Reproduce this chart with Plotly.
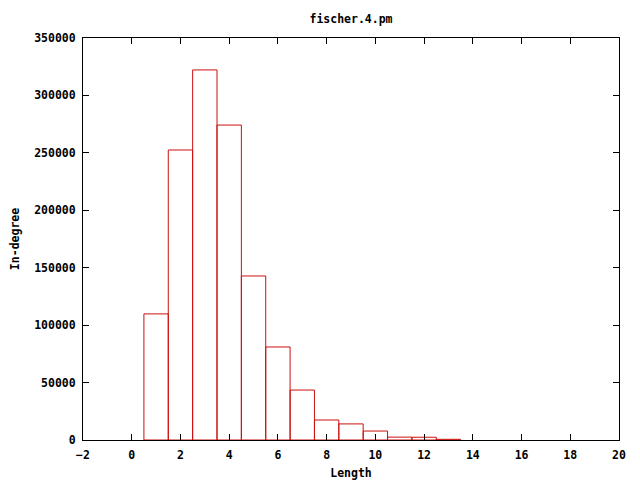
import plotly.graph_objects as go

lengths = [1, 2, 3, 4, 5, 6, 7, 8, 9, 10, 11, 12, 13]
indegree = [109800, 252500, 322200, 274200, 142800, 81000, 43500, 17400, 14000, 7800, 2500, 2400, 600]

FS = 11.5
font = dict(family="DejaVu Sans Mono", size=FS, color="black")

fig = go.Figure()
fig.add_trace(go.Bar(
    x=lengths, y=indegree, width=1,
    marker=dict(color="rgba(0,0,0,0)", line=dict(color="#cc1010", width=1)),
))

axis_common = dict(
    showline=True, linecolor="black", linewidth=1, mirror="ticks",
    ticks="inside", ticklen=6, tickcolor="black", tickwidth=1,
    showgrid=False, zeroline=False, automargin=False,
    tickfont=dict(family="DejaVu Sans Mono", size=FS, color="black", weight="bold"),
)

fig.update_layout(
    width=640, height=480,
    margin=dict(l=83, r=21, t=38, b=40),
    paper_bgcolor="white", plot_bgcolor="white",
    showlegend=False,
    font=font,
    title=dict(text="<b>fischer.4.pm</b>", x=351/640, xanchor="center", y=1-19/480, yanchor="middle",
               font=dict(family="DejaVu Sans Mono", size=FS, color="black")),
    xaxis=dict(range=[-2, 20], tick0=-2, dtick=2, tickformat="d", ticklabelstandoff=4,
               title=dict(text="<b>Length</b>", standoff=8,
                          font=dict(family="DejaVu Sans Mono", size=FS)),
               **axis_common),
    yaxis=dict(range=[0, 350000], tick0=0, dtick=50000, tickformat="d", ticklabelstandoff=4,
               title=dict(text="<b>In-degree</b>", standoff=12,
                          font=dict(family="DejaVu Sans Mono", size=FS)),
               **axis_common),
)

fig.write_html("out.html", config={"displayModeBar": False},
               post_script="document.body.style.margin='0';document.body.style.overflow='hidden';")
